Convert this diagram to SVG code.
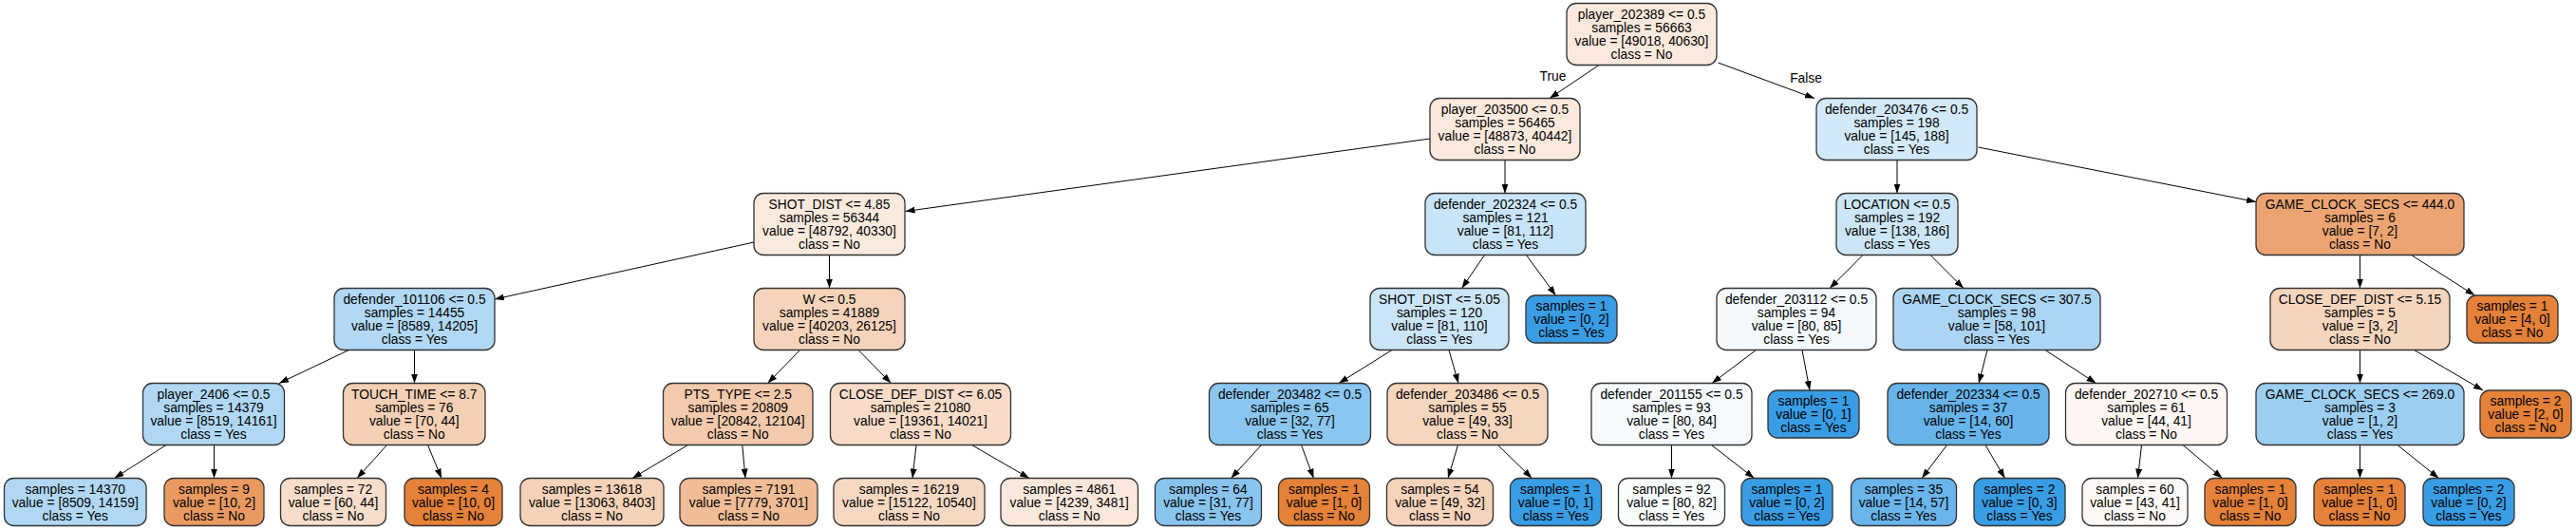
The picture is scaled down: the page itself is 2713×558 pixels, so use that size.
<svg xmlns="http://www.w3.org/2000/svg" width="2713" height="558" viewBox="0 0 2713 558">
<style>
.node rect{stroke:#333;stroke-width:1.3}
text{font-family:"Liberation Sans",Arial,Helvetica,sans-serif;font-size:13.8px;text-anchor:middle;fill:#000}
.edge line{stroke:#000;stroke-width:1;fill:none;marker-end:url(#arr)}
</style>
<defs>
<marker id="arr" viewBox="0 0 10 7" refX="10" refY="3.5" markerWidth="10" markerHeight="7" markerUnits="userSpaceOnUse" orient="auto"><path d="M0,0 L10,3.5 L0,7 z" fill="#000"/></marker>
</defs>
<rect width="2713" height="558" fill="#fff"/>
<g id="edges" class="edge">
<line x1="1684" y1="68.5" x2="1632" y2="103.5"/>
<line x1="1809.5" y1="66" x2="1911" y2="103.5"/>
<line x1="1506" y1="146" x2="953.5" y2="222.5"/>
<line x1="1585" y1="168.5" x2="1585" y2="203.5"/>
<line x1="1998" y1="168.5" x2="1998" y2="203.5"/>
<line x1="2083.5" y1="155" x2="2376" y2="212.5"/>
<line x1="794" y1="255" x2="521" y2="315"/>
<line x1="873.5" y1="268.5" x2="873.5" y2="303.5"/>
<line x1="1563.5" y1="268.5" x2="1539.5" y2="303.5"/>
<line x1="1607.5" y1="268.5" x2="1638.5" y2="311"/>
<line x1="1962" y1="268.5" x2="1927" y2="303.5"/>
<line x1="2033" y1="268.5" x2="2068" y2="303.5"/>
<line x1="2485.5" y1="268.5" x2="2485.5" y2="303.5"/>
<line x1="2539.5" y1="268.5" x2="2606.5" y2="311"/>
<line x1="367.5" y1="368.5" x2="294" y2="403.5"/>
<line x1="436.5" y1="368.5" x2="436.5" y2="403.5"/>
<line x1="842.5" y1="368.5" x2="808.5" y2="403.5"/>
<line x1="904" y1="368.5" x2="938.5" y2="403.5"/>
<line x1="1466" y1="368.5" x2="1410" y2="403.5"/>
<line x1="1526" y1="368.5" x2="1536" y2="403.5"/>
<line x1="1849.5" y1="368.5" x2="1803" y2="403.5"/>
<line x1="1898" y1="368.5" x2="1906" y2="411"/>
<line x1="2093" y1="368.5" x2="2084" y2="403.5"/>
<line x1="2154" y1="368.5" x2="2207.5" y2="403.5"/>
<line x1="2485.5" y1="368.5" x2="2485.5" y2="403.5"/>
<line x1="2542.5" y1="368.5" x2="2615" y2="411"/>
<line x1="175" y1="468.5" x2="120.5" y2="503.5"/>
<line x1="225.5" y1="468.5" x2="225.5" y2="503.5"/>
<line x1="407.5" y1="468.5" x2="376" y2="503.5"/>
<line x1="450.5" y1="468.5" x2="465" y2="503.5"/>
<line x1="724.5" y1="468.5" x2="666" y2="503.5"/>
<line x1="781.8" y1="468.5" x2="785" y2="503.5"/>
<line x1="965" y1="468.5" x2="961" y2="503.5"/>
<line x1="1023.5" y1="468.5" x2="1084" y2="503.5"/>
<line x1="1328.5" y1="468.5" x2="1296.5" y2="503.5"/>
<line x1="1370.5" y1="468.5" x2="1383.5" y2="503.5"/>
<line x1="1535.5" y1="468.5" x2="1525" y2="503.5"/>
<line x1="1577.5" y1="468.5" x2="1613.5" y2="503.5"/>
<line x1="1760.5" y1="468.5" x2="1760.5" y2="503.5"/>
<line x1="1802.5" y1="468.5" x2="1847.5" y2="503.5"/>
<line x1="2050.5" y1="468.5" x2="2024" y2="503.5"/>
<line x1="2091" y1="468.5" x2="2111.5" y2="503.5"/>
<line x1="2255.5" y1="468.5" x2="2251.5" y2="503.5"/>
<line x1="2299" y1="468.5" x2="2340.5" y2="503.5"/>
<line x1="2485.5" y1="468.5" x2="2485.5" y2="503.5"/>
<line x1="2525" y1="468.5" x2="2568.5" y2="503.5"/>
<text x="1635.5" y="85">True</text>
<text x="1902" y="87">False</text>
</g>
<g id="n0" class="node"><rect x="1650" y="3.5" width="158" height="65" rx="10" fill="#fbe9dd"/><text x="1729" y="20">player_202389 &lt;= 0.5</text><text x="1729" y="34">samples = 56663</text><text x="1729" y="48">value = [49018, 40630]</text><text x="1729" y="62">class = No</text></g>
<g id="n1" class="node"><rect x="1506" y="103.5" width="158" height="65" rx="10" fill="#fbe9dd"/><text x="1585" y="120">player_203500 &lt;= 0.5</text><text x="1585" y="134">samples = 56465</text><text x="1585" y="148">value = [48873, 40442]</text><text x="1585" y="162">class = No</text></g>
<g id="n2" class="node"><rect x="1913" y="103.5" width="169" height="65" rx="10" fill="#d2e9f9"/><text x="1997.5" y="120">defender_203476 &lt;= 0.5</text><text x="1997.5" y="134">samples = 198</text><text x="1997.5" y="148">value = [145, 188]</text><text x="1997.5" y="162">class = Yes</text></g>
<g id="n3" class="node"><rect x="794" y="203.5" width="159" height="65" rx="10" fill="#fae9dd"/><text x="873.5" y="220">SHOT_DIST &lt;= 4.85</text><text x="873.5" y="234">samples = 56344</text><text x="873.5" y="248">value = [48792, 40330]</text><text x="873.5" y="262">class = No</text></g>
<g id="n4" class="node"><rect x="1501" y="203.5" width="169" height="65" rx="10" fill="#c8e4f8"/><text x="1585.5" y="220">defender_202324 &lt;= 0.5</text><text x="1585.5" y="234">samples = 121</text><text x="1585.5" y="248">value = [81, 112]</text><text x="1585.5" y="262">class = Yes</text></g>
<g id="n5" class="node"><rect x="1934" y="203.5" width="128" height="65" rx="10" fill="#cce6f8"/><text x="1998" y="220">LOCATION &lt;= 0.5</text><text x="1998" y="234">samples = 192</text><text x="1998" y="248">value = [138, 186]</text><text x="1998" y="262">class = Yes</text></g>
<g id="n6" class="node"><rect x="2376" y="203.5" width="219" height="65" rx="10" fill="#eca572"/><text x="2485.5" y="220">GAME_CLOCK_SECS &lt;= 444.0</text><text x="2485.5" y="234">samples = 6</text><text x="2485.5" y="248">value = [7, 2]</text><text x="2485.5" y="262">class = No</text></g>
<g id="n7" class="node"><rect x="352" y="303.5" width="169" height="65" rx="10" fill="#b1d8f5"/><text x="436.5" y="320">defender_101106 &lt;= 0.5</text><text x="436.5" y="334">samples = 14455</text><text x="436.5" y="348">value = [8589, 14205]</text><text x="436.5" y="362">class = Yes</text></g>
<g id="n8" class="node"><rect x="794" y="303.5" width="159" height="65" rx="10" fill="#f6d3ba"/><text x="873.5" y="320">W &lt;= 0.5</text><text x="873.5" y="334">samples = 41889</text><text x="873.5" y="348">value = [40203, 26125]</text><text x="873.5" y="362">class = No</text></g>
<g id="n9" class="node"><rect x="1443" y="303.5" width="146" height="65" rx="10" fill="#cbe5f8"/><text x="1516" y="320">SHOT_DIST &lt;= 5.05</text><text x="1516" y="334">samples = 120</text><text x="1516" y="348">value = [81, 110]</text><text x="1516" y="362">class = Yes</text></g>
<g id="n10" class="node"><rect x="1607" y="311" width="96" height="50" rx="10" fill="#399de5"/><text x="1655" y="327">samples = 1</text><text x="1655" y="341">value = [0, 2]</text><text x="1655" y="355">class = Yes</text></g>
<g id="n11" class="node"><rect x="1808" y="303.5" width="168" height="65" rx="10" fill="#f3f9fd"/><text x="1892" y="320">defender_203112 &lt;= 0.5</text><text x="1892" y="334">samples = 94</text><text x="1892" y="348">value = [80, 85]</text><text x="1892" y="362">class = Yes</text></g>
<g id="n12" class="node"><rect x="1994" y="303.5" width="218" height="65" rx="10" fill="#abd5f4"/><text x="2103" y="320">GAME_CLOCK_SECS &lt;= 307.5</text><text x="2103" y="334">samples = 98</text><text x="2103" y="348">value = [58, 101]</text><text x="2103" y="362">class = Yes</text></g>
<g id="n13" class="node"><rect x="2391" y="303.5" width="189" height="65" rx="10" fill="#f6d5bd"/><text x="2485.5" y="320">CLOSE_DEF_DIST &lt;= 5.15</text><text x="2485.5" y="334">samples = 5</text><text x="2485.5" y="348">value = [3, 2]</text><text x="2485.5" y="362">class = No</text></g>
<g id="n14" class="node"><rect x="2598" y="311" width="96" height="50" rx="10" fill="#e58139"/><text x="2646" y="327">samples = 1</text><text x="2646" y="341">value = [4, 0]</text><text x="2646" y="355">class = No</text></g>
<g id="n15" class="node"><rect x="150.5" y="403.5" width="149" height="65" rx="10" fill="#b0d8f5"/><text x="225" y="420">player_2406 &lt;= 0.5</text><text x="225" y="434">samples = 14379</text><text x="225" y="448">value = [8519, 14161]</text><text x="225" y="462">class = Yes</text></g>
<g id="n16" class="node"><rect x="361.5" y="403.5" width="149.5" height="65" rx="10" fill="#f5d0b5"/><text x="436.25" y="420">TOUCH_TIME &lt;= 8.7</text><text x="436.25" y="434">samples = 76</text><text x="436.25" y="448">value = [70, 44]</text><text x="436.25" y="462">class = No</text></g>
<g id="n17" class="node"><rect x="698.5" y="403.5" width="157.5" height="65" rx="10" fill="#f4caac"/><text x="777.25" y="420">PTS_TYPE &lt;= 2.5</text><text x="777.25" y="434">samples = 20809</text><text x="777.25" y="448">value = [20842, 12104]</text><text x="777.25" y="462">class = No</text></g>
<g id="n18" class="node"><rect x="874.5" y="403.5" width="190" height="65" rx="10" fill="#f8dcc8"/><text x="969.5" y="420">CLOSE_DEF_DIST &lt;= 6.05</text><text x="969.5" y="434">samples = 21080</text><text x="969.5" y="448">value = [19361, 14021]</text><text x="969.5" y="462">class = No</text></g>
<g id="n19" class="node"><rect x="1273.5" y="403.5" width="170" height="65" rx="10" fill="#8bc6f0"/><text x="1358.5" y="420">defender_203482 &lt;= 0.5</text><text x="1358.5" y="434">samples = 65</text><text x="1358.5" y="448">value = [32, 77]</text><text x="1358.5" y="462">class = Yes</text></g>
<g id="n20" class="node"><rect x="1461" y="403.5" width="169" height="65" rx="10" fill="#f7d6be"/><text x="1545.5" y="420">defender_203486 &lt;= 0.5</text><text x="1545.5" y="434">samples = 55</text><text x="1545.5" y="448">value = [49, 33]</text><text x="1545.5" y="462">class = No</text></g>
<g id="n21" class="node"><rect x="1676" y="403.5" width="169" height="65" rx="10" fill="#f6fafe"/><text x="1760.5" y="420">defender_201155 &lt;= 0.5</text><text x="1760.5" y="434">samples = 93</text><text x="1760.5" y="448">value = [80, 84]</text><text x="1760.5" y="462">class = Yes</text></g>
<g id="n22" class="node"><rect x="1862" y="411" width="96" height="50" rx="10" fill="#399de5"/><text x="1910" y="427">samples = 1</text><text x="1910" y="441">value = [0, 1]</text><text x="1910" y="455">class = Yes</text></g>
<g id="n23" class="node"><rect x="1988" y="403.5" width="170" height="65" rx="10" fill="#67b4eb"/><text x="2073" y="420">defender_202334 &lt;= 0.5</text><text x="2073" y="434">samples = 37</text><text x="2073" y="448">value = [14, 60]</text><text x="2073" y="462">class = Yes</text></g>
<g id="n24" class="node"><rect x="2175.5" y="403.5" width="170" height="65" rx="10" fill="#fdf6f2"/><text x="2260.5" y="420">defender_202710 &lt;= 0.5</text><text x="2260.5" y="434">samples = 61</text><text x="2260.5" y="448">value = [44, 41]</text><text x="2260.5" y="462">class = No</text></g>
<g id="n25" class="node"><rect x="2376" y="403.5" width="219" height="65" rx="10" fill="#9ccef2"/><text x="2485.5" y="420">GAME_CLOCK_SECS &lt;= 269.0</text><text x="2485.5" y="434">samples = 3</text><text x="2485.5" y="448">value = [1, 2]</text><text x="2485.5" y="462">class = Yes</text></g>
<g id="n26" class="node"><rect x="2612" y="411" width="96" height="50" rx="10" fill="#e58139"/><text x="2660" y="427">samples = 2</text><text x="2660" y="441">value = [2, 0]</text><text x="2660" y="455">class = No</text></g>
<g id="n27" class="node"><rect x="4.5" y="503.5" width="149.5" height="50" rx="10" fill="#b0d8f5"/><text x="79.25" y="519.5">samples = 14370</text><text x="79.25" y="533.5">value = [8509, 14159]</text><text x="79.25" y="547.5">class = Yes</text></g>
<g id="n28" class="node"><rect x="173" y="503.5" width="105" height="50" rx="10" fill="#ea9a61"/><text x="225.5" y="519.5">samples = 9</text><text x="225.5" y="533.5">value = [10, 2]</text><text x="225.5" y="547.5">class = No</text></g>
<g id="n29" class="node"><rect x="295.5" y="503.5" width="111" height="50" rx="10" fill="#f8ddca"/><text x="351" y="519.5">samples = 72</text><text x="351" y="533.5">value = [60, 44]</text><text x="351" y="547.5">class = No</text></g>
<g id="n30" class="node"><rect x="426" y="503.5" width="103" height="50" rx="10" fill="#e58139"/><text x="477.5" y="519.5">samples = 4</text><text x="477.5" y="533.5">value = [10, 0]</text><text x="477.5" y="547.5">class = No</text></g>
<g id="n31" class="node"><rect x="548" y="503.5" width="151" height="50" rx="10" fill="#f6d2b8"/><text x="623.5" y="519.5">samples = 13618</text><text x="623.5" y="533.5">value = [13063, 8403]</text><text x="623.5" y="547.5">class = No</text></g>
<g id="n32" class="node"><rect x="716" y="503.5" width="145" height="50" rx="10" fill="#f1bd97"/><text x="788.5" y="519.5">samples = 7191</text><text x="788.5" y="533.5">value = [7779, 3701]</text><text x="788.5" y="547.5">class = No</text></g>
<g id="n33" class="node"><rect x="878" y="503.5" width="159" height="50" rx="10" fill="#f7d9c3"/><text x="957.5" y="519.5">samples = 16219</text><text x="957.5" y="533.5">value = [15122, 10540]</text><text x="957.5" y="547.5">class = No</text></g>
<g id="n34" class="node"><rect x="1054" y="503.5" width="144.5" height="50" rx="10" fill="#fae8dc"/><text x="1126.25" y="519.5">samples = 4861</text><text x="1126.25" y="533.5">value = [4239, 3481]</text><text x="1126.25" y="547.5">class = No</text></g>
<g id="n35" class="node"><rect x="1216.5" y="503.5" width="112" height="50" rx="10" fill="#89c4ef"/><text x="1272.5" y="519.5">samples = 64</text><text x="1272.5" y="533.5">value = [31, 77]</text><text x="1272.5" y="547.5">class = Yes</text></g>
<g id="n36" class="node"><rect x="1346.5" y="503.5" width="96" height="50" rx="10" fill="#e58139"/><text x="1394.5" y="519.5">samples = 1</text><text x="1394.5" y="533.5">value = [1, 0]</text><text x="1394.5" y="547.5">class = No</text></g>
<g id="n37" class="node"><rect x="1460.5" y="503.5" width="112" height="50" rx="10" fill="#f6d3ba"/><text x="1516.5" y="519.5">samples = 54</text><text x="1516.5" y="533.5">value = [49, 32]</text><text x="1516.5" y="547.5">class = No</text></g>
<g id="n38" class="node"><rect x="1590.5" y="503.5" width="96" height="50" rx="10" fill="#399de5"/><text x="1638.5" y="519.5">samples = 1</text><text x="1638.5" y="533.5">value = [0, 1]</text><text x="1638.5" y="547.5">class = Yes</text></g>
<g id="n39" class="node"><rect x="1704.5" y="503.5" width="112" height="50" rx="10" fill="#fafdfe"/><text x="1760.5" y="519.5">samples = 92</text><text x="1760.5" y="533.5">value = [80, 82]</text><text x="1760.5" y="547.5">class = Yes</text></g>
<g id="n40" class="node"><rect x="1834" y="503.5" width="96" height="50" rx="10" fill="#399de5"/><text x="1882" y="519.5">samples = 1</text><text x="1882" y="533.5">value = [0, 2]</text><text x="1882" y="547.5">class = Yes</text></g>
<g id="n41" class="node"><rect x="1949.5" y="503.5" width="111" height="50" rx="10" fill="#6ab5eb"/><text x="2005" y="519.5">samples = 35</text><text x="2005" y="533.5">value = [14, 57]</text><text x="2005" y="547.5">class = Yes</text></g>
<g id="n42" class="node"><rect x="2079" y="503.5" width="96" height="50" rx="10" fill="#399de5"/><text x="2127" y="519.5">samples = 2</text><text x="2127" y="533.5">value = [0, 3]</text><text x="2127" y="547.5">class = Yes</text></g>
<g id="n43" class="node"><rect x="2193" y="503.5" width="111" height="50" rx="10" fill="#fef9f6"/><text x="2248.5" y="519.5">samples = 60</text><text x="2248.5" y="533.5">value = [43, 41]</text><text x="2248.5" y="547.5">class = No</text></g>
<g id="n44" class="node"><rect x="2322" y="503.5" width="96" height="50" rx="10" fill="#e58139"/><text x="2370" y="519.5">samples = 1</text><text x="2370" y="533.5">value = [1, 0]</text><text x="2370" y="547.5">class = No</text></g>
<g id="n45" class="node"><rect x="2437" y="503.5" width="96" height="50" rx="10" fill="#e58139"/><text x="2485" y="519.5">samples = 1</text><text x="2485" y="533.5">value = [1, 0]</text><text x="2485" y="547.5">class = No</text></g>
<g id="n46" class="node"><rect x="2552" y="503.5" width="96" height="50" rx="10" fill="#399de5"/><text x="2600" y="519.5">samples = 2</text><text x="2600" y="533.5">value = [0, 2]</text><text x="2600" y="547.5">class = Yes</text></g>
</svg>
